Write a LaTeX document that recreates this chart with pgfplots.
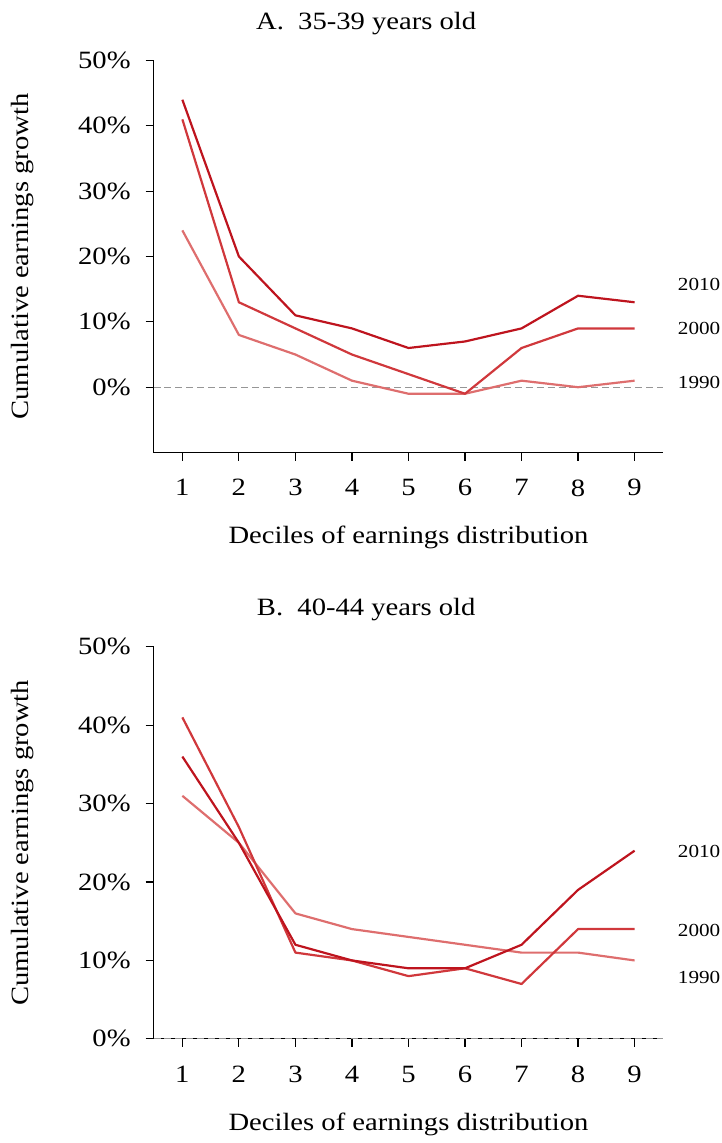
\documentclass[border=0pt]{standalone}
\usepackage{fontspec}
\setmainfont{Liberation Serif}[FakeStretch=1.15]
\usepackage{pgfplots}
\pgfplotsset{compat=1.18}
\definecolor{c2010}{RGB}{190,20,30}
\definecolor{c2000}{RGB}{208,56,60}
\definecolor{c1990}{RGB}{222,110,110}
\definecolor{zgray}{RGB}{150,150,150}
\newcommand{\bigf}{\fontsize{12.5}{15}\selectfont}
\newcommand{\yrf}{\fontsize{9.25}{11}\selectfont}
\pgfplotsset{
  panel/.style={
    scale only axis, width=256.2pt, height=197pt,
    xmin=0.49, xmax=9.51,
    axis x line*=bottom, axis y line*=left,
    axis line style={-, black, line width=0.6pt},
    tick style={black, line width=0.6pt},
    tick align=outside, major tick length=4pt,
    xtick={1,...,9}, ytick={0,10,...,50},
    /pgf/number format/assume math mode=true,
    yticklabel={\pgfmathprintnumber{\tick}\%},
    ticklabel style={font=\bigf},
    xticklabel style={yshift=-6pt},
    yticklabel style={xshift=-4pt},
    clip=false,
  },
  series/.style={line width=1.1pt, line join=round},
}
\begin{document}
\begin{tikzpicture}
\path (0,0) rectangle (362.5pt,571.5pt);
% Panel A
\begin{axis}[panel, at={(77.15pt,344.1pt)}, anchor=south west, ymin=-10, ymax=50]
\addplot[zgray, line width=0.6pt, dash pattern=on 3.5pt off 2pt] coordinates {(0.49,0) (9.51,0)};
\addplot[series, c1990] coordinates {(1,24) (2,8) (3,5) (4,1) (5,-1) (6,-1) (7,1) (8,0) (9,1)};
\addplot[series, c2000] coordinates {(1,41) (2,13) (3,9) (4,5) (5,2) (6,-1) (7,6) (8,9) (9,9)};
\addplot[series, c2010] coordinates {(1,44) (2,20) (3,11) (4,9) (5,6) (6,7) (7,9) (8,14) (9,13)};
\node[anchor=west, inner sep=0pt, font=\yrf] at (axis cs:9.76,15.8) {2010};
\node[anchor=west, inner sep=0pt, font=\yrf] at (axis cs:9.76,8.98) {2000};
\node[anchor=west, inner sep=0pt, font=\yrf] at (axis cs:9.76,0.75) {1990};
\node[font=\bigf] at (rel axis cs:0.417,1.093) {A.\ \ 35-39 years old};
\node[font=\bigf] at (rel axis cs:0.5,-0.217) {Deciles of earnings distribution};
\node[font=\bigf, rotate=90] at (rel axis cs:-0.256,0.5) {Cumulative earnings growth};
\end{axis}
% Panel B
\begin{axis}[panel, at={(77.15pt,49.5pt)}, anchor=south west, ymin=0, ymax=50]
\addplot[zgray, line width=0.6pt, dash pattern=on 3.5pt off 2pt] coordinates {(0.49,0) (9.51,0)};
\addplot[series, c1990] coordinates {(1,31) (2,25) (3,16) (4,14) (5,13) (6,12) (7,11) (8,11) (9,10)};
\addplot[series, c2000] coordinates {(1,41) (2,27) (3,11) (4,10) (5,8) (6,9) (7,7) (8,14) (9,14)};
\addplot[series, c2010] coordinates {(1,36) (2,25) (3,12) (4,10) (5,9) (6,9) (7,12) (8,19) (9,24)};
\node[anchor=west, inner sep=0pt, font=\yrf] at (axis cs:9.76,23.95) {2010};
\node[anchor=west, inner sep=0pt, font=\yrf] at (axis cs:9.76,13.87) {2000};
\node[anchor=west, inner sep=0pt, font=\yrf] at (axis cs:9.76,7.87) {1990};
\node[font=\bigf] at (rel axis cs:0.417,1.094) {B.\ \ 40-44 years old};
\node[font=\bigf] at (rel axis cs:0.5,-0.2195) {Deciles of earnings distribution};
\node[font=\bigf, rotate=90] at (rel axis cs:-0.256,0.5) {Cumulative earnings growth};
\end{axis}
\end{tikzpicture}
\end{document}
